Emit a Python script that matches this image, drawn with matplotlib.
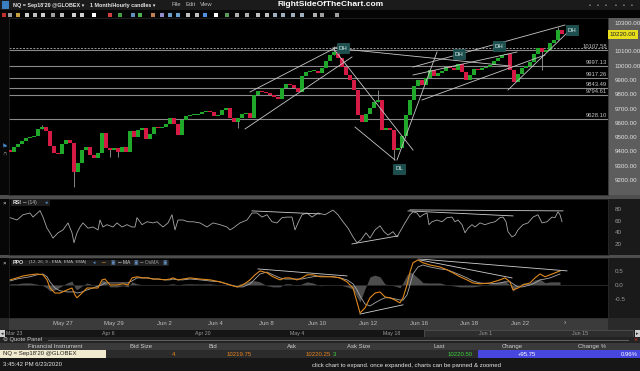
import numpy as np
import matplotlib.pyplot as plt
from matplotlib.patches import Rectangle
from matplotlib.ticker import FuncFormatter

plt.rcParams['font.family'] = ['Liberation Sans', 'DejaVu Sans']

W, H = 640, 371

# hourly-ish candle closes (NQ Sep 2020)
closes = [9396, 9431, 9452, 9473, 9494, 9501, 9508, 9557, 9571, 9543,
          9438, 9389, 9382, 9452, 9480, 9459, 9256, 9319, 9410, 9431,
          9375, 9354, 9389, 9529, 9424, 9410, 9424, 9396, 9431, 9396,
          9543, 9501, 9550, 9564, 9487, 9522, 9571, 9564, 9571, 9592,
          9634, 9592, 9515, 9620, 9648, 9655, 9655, 9662, 9676, 9683,
          9676, 9648, 9655, 9690, 9704, 9634, 9606, 9634, 9662, 9669,
          9634, 9795, 9823, 9816, 9809, 9795, 9781, 9767, 9844, 9872,
          9865, 9844, 9816, 9928, 9956, 9963, 9963, 9949, 9984, 10033,
          10075, 10096, 10054, 9991, 9935, 9900, 9830, 9655, 9606, 9662,
          9704, 9746, 9760, 9550, 9564, 9550, 9410, 9424, 9508, 9655,
          9760, 9858, 9900, 9865, 9914, 9970, 9928, 9949, 9963, 9991,
          9984, 9970, 10012, 9956, 9900, 9935, 9977, 9970, 9984, 9991,
          10005, 10033, 10054, 10075, 10082, 9970, 9886, 9942, 9984, 9998,
          10026, 10082, 10124, 10096, 10110, 10159, 10180, 10250, 10220.5]
first_open = 9410
wick_idx = [8, 16, 25, 27, 57, 81, 92, 96, 133, 137]
wick_to = [9585, 9151, 9361, 9361, 9564, 10138, 9830, 9340, 9970, 10271]

levels = [10107.58, 9997.13, 9917.26, 9843.49, 9794.61, 9628.10]
prev_close = 10124.75
last_price = 10220.50

# trendlines drawn on the price chart: (bar, price) pairs
price_lines = [((60, 9816), (81.75, 10131)), ((58.75, 9557), (85.5, 10061)),
               ((80.75, 10124), (100.75, 9410)), ((86.25, 9571), (96.25, 9340)),
               ((80.75, 10124), (125, 9998)), ((96.75, 9340), (106.75, 10096)),
               ((100.75, 9935), (126.75, 10096)), ((103, 9760), (133.75, 10075)),
               ((100.75, 9991), (138.75, 10285)), ((124.5, 9830), (139.5, 10236))]
pivot_text = ['DH', 'DH', 'DH', 'DH', 'DL']
pivot_x = [83.25, 112.25, 122.25, 140.5, 97.25]
pivot_y = [10124, 10082, 10138, 10250, 9277]

rsi_x = [0, 1.75, 3.25, 5, 5.75, 7.5, 8.25, 9.25, 10, 10.75, 12, 13.25, 14.5, 15.5, 16,
         16.75, 17.5, 18.25, 19.5, 20.75, 22, 22.5, 23.25, 24.25, 25.75, 26.75, 28, 29.25,
         30.5, 31.25, 31.75, 33, 34.25, 35.75, 36.75, 38.25, 39.5, 40.5, 41.25, 42, 43.25,
         44.5, 45.75, 47.5, 49.25, 50.75, 52.5, 54.25, 55, 55.75, 57.5, 59.25, 60.5, 61.75,
         63, 64.25, 65.5, 66.75, 68, 69.25, 70.5, 71.25, 72, 73, 74.25, 75.5, 77, 78.75,
         80.75, 82, 83.25, 84.5, 85.75, 86.75, 87.75, 89, 90, 91.25, 92.5, 93.5, 94.5,
         95.75, 96.75, 97.5, 98.75, 100, 100.75, 101.75, 102.5, 103.25, 104.25, 104.75,
         105.5, 106.75, 108, 109.25, 110.5, 111.25, 112, 113, 113.75, 114.5, 115.5, 116.25,
         117.5, 118.75, 120, 121.25, 122.5, 123.25, 124, 124.5, 125.5, 126.25, 127, 128.25,
         129.5, 130.75, 132, 133, 134.25, 135.5, 136.25, 137, 137.5, 138]
rsi_val = [65, 61, 70, 73, 66, 77, 66, 47, 39, 30, 39, 44, 56, 39, 22,
           39, 49, 56, 47, 49, 44, 61, 49, 53, 49, 56, 49, 53,
           49, 49, 65, 53, 58, 56, 58, 49, 56, 70, 44, 61, 61,
           58, 58, 56, 49, 56, 53, 49, 44, 47, 56, 61, 73, 73,
           66, 70, 58, 56, 65, 66, 66, 44, 56, 70, 73, 66, 73, 70,
           78, 70, 58, 47, 32, 22, 27, 39, 30, 44, 51, 41, 35,
           41, 32, 41, 56, 70, 75, 73, 66, 70, 73, 53,
           58, 61, 58, 65, 66, 58, 61, 53, 39, 47, 53, 49,
           56, 53, 56, 58, 65, 66, 58, 41, 32, 35, 44, 53,
           56, 66, 70, 56, 58, 66, 65, 75, 70, 58]
rsi_lines = [((60.5, 76.6), (77.5, 71.4)), ((99.5, 76.6), (125.75, 68)),
             ((100, 78.3), (138.25, 76.6)), ((85.5, 20), (97, 33.7))]

ppo_x = [0, 1.75, 3.25, 5, 6.75, 8.25, 9.25, 10, 11.25, 12.5, 14.25, 15.5, 16.25, 16.75,
         18, 19.25, 20.75, 22, 23, 23.75, 25, 26.75, 28.25, 29.5, 30.5, 31.75, 33.25, 34.5,
         35.75, 37, 38.75, 40, 40.75, 42, 43.25, 45, 47.5, 50, 52.5, 55, 56.75, 58.25, 60,
         61.25, 62.5, 64.25, 65.75, 67.5, 68.75, 70, 71.75, 73, 74.25, 75.75, 77.5, 80.75,
         82.5, 84.25, 85.75, 86.75, 87.5, 88.75, 90, 91.25, 92.5, 93.75, 95, 96.25, 97.5,
         98.25, 99.25, 100, 100.75, 102, 103.25, 105, 107.5, 109.25, 110.75, 112.5, 114.25,
         115.75, 117.5, 120, 122.5, 123.75, 125, 125.75, 127, 128.25, 130, 131.25, 132.5,
         133.75, 135, 136.25, 137.5]
ppo_val = [0.18, 0.25, 0.32, 0.36, 0.39, 0.36, 0.18, -0.11, -0.29, -0.29, -0.18, -0.11, -0.36,
           -0.46, -0.29, -0.11, -0.11, -0.11, 0.18, 0.21, 0.0, 0.0, 0.04, 0.0, 0.25, 0.29, 0.25,
           0.25, 0.21, 0.21, 0.18, 0.21, 0.25, 0.18, 0.21, 0.25, 0.21, 0.18, 0.11, 0.0, -0.07,
           0.0, 0.18, 0.36, 0.5, 0.43, 0.29, 0.18, 0.25, 0.25, 0.18, 0.25, 0.36, 0.36, 0.29,
           0.29, 0.25, 0.11, -0.11, -0.61, -1.0, -0.82, -0.46, -0.29, -0.25, -0.43, -0.46,
           -0.54, -0.64, -0.46, 0.0, 0.46, 0.79, 0.89, 0.79, 0.71, 0.64, 0.54, 0.43, 0.29,
           0.18, 0.07, 0.04, 0.07, 0.18, 0.25, 0.11, -0.18, -0.11, 0.0, 0.07, 0.25, 0.39,
           0.29, 0.36, 0.43, 0.5]
ma_val = [0.14, 0.21, 0.25, 0.29, 0.36, 0.39, 0.29, 0.11, -0.11, -0.21, -0.25, -0.25, -0.25,
          -0.29, -0.25, -0.18, -0.11, -0.04, 0.0, 0.07, 0.07, 0.07, 0.07, 0.07, 0.14, 0.25, 0.25,
          0.25, 0.21, 0.21, 0.18, 0.18, 0.21, 0.18, 0.18, 0.21, 0.18, 0.14, 0.11, 0.0, -0.07,
          -0.07, 0.04, 0.21, 0.39, 0.46, 0.36, 0.25, 0.21, 0.21, 0.21, 0.21, 0.25, 0.29, 0.32,
          0.29, 0.25, 0.18, 0.04, -0.18, -0.39, -0.68, -0.75, -0.64, -0.54, -0.46, -0.46,
          -0.5, -0.54, -0.54, -0.36, 0.0, 0.39, 0.64, 0.71, 0.64, 0.57, 0.54, 0.46, 0.36,
          0.25, 0.14, 0.07, 0.04, 0.07, 0.11, 0.11, 0.04, -0.07, -0.07, 0.0, 0.07, 0.18,
          0.21, 0.25, 0.32, 0.39]
ppo_lines = [((62, 0.57), (84.25, 0.32)), ((102, 0.93), (139.25, 0.5)),
             ((102.5, 0.89), (125.5, 0.25)), ((87.5, -1.04), (98.25, -0.71))]

day_labels = ['May 27', 'May 29', 'Jun 2', 'Jun 4', 'Jun 8', 'Jun 10', 'Jun 12',
              'Jun 16', 'Jun 18', 'Jun 22']
nav_labels = ['Mar 23', 'Apr 6', 'Apr 20', 'May 4', 'May 18', 'Jun 1', 'Jun 15']

quote_cols = ['Financial Instrument', 'Bid Size', 'Bid', 'Ask', 'Ask Size', 'Last',
              'Change', 'Change %']
instrument = "NQ = Sep18'20 @GLOBEX"
bid_size, bid, ask, ask_size = '4', '10219.75', '10220.25', '3'
change, change_pct = '+95.75', '0.96%'


fig = plt.figure(figsize=(6.4, 3.71), dpi=100, facecolor='#0c0c0c')


def rect(x0, y0, x1, y1, color, z=-1, ec='none', lw=0):
    fig.add_artist(Rectangle((x0 / W, 1 - y1 / H), (x1 - x0) / W, (y1 - y0) / H,
                             transform=fig.transFigure, facecolor=color,
                             edgecolor=ec, linewidth=lw, zorder=z))


def label(x, y, s, size=4.5, color='#cccccc', ha='left', **kw):
    fig.text(x / W, 1 - y / H, s, fontsize=size, color=color, ha=ha, va='center', **kw)


def axes_px(x0, y0, x1, y1):
    return fig.add_axes([x0 / W, 1 - y1 / H, (x1 - x0) / W, (y1 - y0) / H])


# window chrome
rect(0, 0, 640, 10, '#1b1b1b')
rect(0, 10, 640, 18, '#050505')
rect(0, 18, 9, 318, '#070707')
rect(608, 18, 640, 195, '#5d5d5d')
rect(608, 195, 640, 318, '#1a1a1a')
rect(0, 195, 640, 199, '#4e4e4e')
rect(0, 255, 640, 258, '#4e4e4e')
rect(0, 318, 640, 330, '#2a2a2a')
rect(9, 318, 608, 330, '#3b3b3b')
rect(0, 330, 640, 337, '#151515')
rect(424, 330, 633, 337, '#2e2e2e', ec='#6a6a6a', lw=0.4)
rect(0, 337, 640, 343, '#232323')
rect(0, 343, 640, 350, '#3a3a3a')
rect(0, 350, 640, 358, '#2b2b2b')
rect(0, 350, 106, 358, '#efe9cd')
rect(478, 350, 640, 358, '#4747e0')
rect(0, 358, 640, 371, '#161616')

# title bar
rect(2, 1, 9, 9, '#3a7fc0', z=2)
label(13, 5, "NQ = Sep18'20 @GLOBEX \u25be", size=3.9, color='#e6e6e6', fontweight='bold')
label(90, 5, "1 Month/Hourly candles \u25be", size=3.9, color='#e6e6e6', fontweight='bold')
label(171, 5, "File", size=4.2, color='#bdbdbd')
label(185, 5, "Edit", size=4.2, color='#bdbdbd')
label(200, 5, "View", size=4.2, color='#bdbdbd')
label(331, 4.5, "RightSideOfTheChart.com", size=6, color='white', ha='center',
      fontweight='heavy')
for x in [590, 598, 606, 616, 624, 632]:
    label(x, 5, '\u25aa', size=4, color='#8a8a8a', ha='center')

# toolbar icons
icon_x = [4, 10, 18, 27, 35, 43, 53, 62, 74, 82, 94, 110, 120, 133, 140, 153, 162, 170,
          178, 188, 197, 205, 216, 227, 237, 247, 258, 267, 275, 283, 293, 302, 315, 322, 337]
icon_c = ['#c03030', '#9a9a9a', '#c8a040', '#cfcfcf', '#bfbfbf', '#d0d0d0', '#a0a0a0',
          '#c0c0c0', '#d0d0d0', '#d0d0d0', '#ffffff', '#d04040', '#40a040', '#6090c0',
          '#50b050', '#c08050', '#9090d0', '#6aa0d0', '#6aa0d0', '#c0c0c0', '#c0c0c0',
          '#5090e0', '#ffffff', '#5a9a5a', '#b0b0b0', '#b0b0b0', '#c0c0c0', '#c0c0c0',
          '#a0b0c0', '#a0b0c0', '#a0b0c0', '#a0b0c0', '#b0b0b0', '#a0a0a0', '#a0a0a0']
for x, c in zip(icon_x, icon_c):
    rect(x - 2, 12.5, x + 2, 16.5, c, z=2)

# panes
ax = axes_px(9, 18, 608, 195)
ax_rsi = axes_px(9, 199, 608, 255)
ax_ppo = axes_px(9, 258, 608, 318)
for a in (ax, ax_rsi, ax_ppo):
    a.set_facecolor('black')
    a.set_xlim(-0.25, 149.5)
    for s in a.spines.values():
        s.set_color('#2a2a2a')
        s.set_linewidth(0.5)
    a.tick_params(length=0)
    a.yaxis.tick_right()

# price candles
closes_a = np.array(closes, dtype=float)
idx = np.arange(len(closes_a))
opens = np.r_[first_open, closes_a[:-1]]
colors = np.where(closes_a >= opens, '#1fa82a', '#d41a45')
body_lo = np.minimum(opens, closes_a)
body_h = np.maximum(np.abs(closes_a - opens), 4)
for i, p in zip(wick_idx, wick_to):
    ax.vlines(i, min(p, body_lo[i]), max(p, body_lo[i] + body_h[i]), color='#9a9a9a',
              lw=0.6, zorder=2)
ax.bar(idx, body_h, bottom=body_lo, width=0.8, color=colors, linewidth=0, zorder=3)

for lv in levels:
    ax.axhline(lv, color='#8a8a8a', lw=0.8, zorder=1)
    ax.text(149.3, lv + 6, f'{lv:.2f}', fontsize=4.2, color='#c4c4c4', ha='right',
            va='bottom', zorder=4)
ax.axhline(prev_close, color='#9a9a9a', lw=0.7, ls=(0, (2, 1.5)), zorder=1)

for (x0, y0), (x1, y1) in price_lines:
    ax.plot([x0, x1], [y0, y1], color='#c8c8c8', lw=0.6, zorder=4)
for s, x, y in zip(pivot_text, pivot_x, pivot_y):
    ax.text(x, y, s, fontsize=4.3, color='#d8eeee', ha='center', va='center', zorder=6,
            bbox=dict(boxstyle='square,pad=0.35', fc='#1d4f4f', ec='#2f6a6a', lw=0.4))

ax.set_ylim(9095, 10334)
ax.set_xticks([])
ax.set_yticks([p for p in range(9200, 10301, 100) if p != 10200])
ax.yaxis.set_major_formatter(FuncFormatter(lambda v, _: f'{v:.2f}'))
ax.tick_params(axis='y', labelsize=4.5, colors='#e2e2e2', pad=5)
ax.text(1.003, last_price, f'{last_price - 0.5:.2f}', transform=ax.get_yaxis_transform(),
        fontsize=4.5, color='#202020', ha='left', va='center', zorder=10, clip_on=False,
        bbox=dict(boxstyle='square,pad=0.3', fc='#e8df1c', ec='none'))

# RSI
ax_rsi.plot(rsi_x, rsi_val, color='#a8a8a8', lw=0.6)
for (x0, y0), (x1, y1) in rsi_lines:
    ax_rsi.plot([x0, x1], [y0, y1], color='#cfcfcf', lw=0.6)
ax_rsi.set_ylim(1, 97)
ax_rsi.set_xticks([])
ax_rsi.set_yticks([20, 40, 60, 80])
ax_rsi.tick_params(axis='y', labelsize=4.5, colors='#9c9c9c', pad=5)

# PPO
osma = np.array(ppo_val) - np.array(ma_val)
ax_ppo.axhline(0, color='#2c2c2c', lw=0.6)
ax_ppo.fill_between(ppo_x, 0, osma, color='#4d4d4d', lw=0)
ax_ppo.plot(ppo_x, ma_val, color='#a8a8a8', lw=0.6)
ax_ppo.plot(ppo_x, ppo_val, color='#e0891c', lw=0.8)
for (x0, y0), (x1, y1) in ppo_lines:
    ax_ppo.plot([x0, x1], [y0, y1], color='#cfcfcf', lw=0.6)
ax_ppo.set_ylim(-1.18, 0.96)
ax_ppo.set_yticks([-0.5, 0.0, 0.5])
ax_ppo.yaxis.set_major_formatter(FuncFormatter(lambda v, _: f'{v:.1f}'))
ax_ppo.tick_params(axis='y', labelsize=4.5, colors='#9c9c9c', pad=5)
ax_ppo.set_xticks([13.25 + 12.7 * k for k in range(len(day_labels))])
ax_ppo.set_xticklabels(day_labels)
ax_ppo.tick_params(axis='x', labelsize=4.3, colors='#bdbdbd', pad=2)

# pane captions
rect(11, 199.5, 50, 205.5, '#1d1d1d', z=2)
label(13, 202.5, 'RSI', size=3.8, color='#e0e0e0', fontweight='bold')
label(23, 202.5, '\u2500 (14)', size=3.6, color='#bbbbbb')
label(45, 202.5, '\u25c2', size=3.6, color='#5a9ad8')
rect(11, 259.5, 169, 265.5, '#1d1d1d', z=2)
label(13, 262.5, 'PPO', size=3.8, color='#e0e0e0', fontweight='bold')
label(29, 262.5, '(12, 26, 9 - EMA, EMA, EMA)', size=3.2, color='#bbbbbb')
label(93, 262.5, '\u25c2', size=3.4, color='#5a9ad8')
label(101, 262.5, '\u2500', size=3.8, color='#e0891c')
label(111, 262.5, '\u25a3', size=3.4, color='#6a9ad0')
label(118, 262.5, '\u2500 MA', size=3.6, color='#d0d0d0')
label(134, 262.5, '\u25a3', size=3.4, color='#6a9ad0')
label(140, 262.5, '\u2500 OsMA', size=3.6, color='#9a9a9a')
label(163, 262.5, '\u25a3', size=3.4, color='#6a9ad0')
for y in (203, 263):
    label(4.5, y, '\u00d7', size=4.5, color='#dddddd', ha='center')
label(4.5, 146, '\u2691', size=4.5, color='#4a90d0', ha='center')
label(4.5, 153, '\u2229', size=4.5, color='#bbbbbb', ha='center')

# date row and navigator
label(565, 324, '\u203a', size=5, color='#bbbbbb', ha='center')
for k, s in enumerate(nav_labels):
    label(14 + 94.3 * k, 333.5, s, size=3.8, color='#9a9a9a', ha='center')
rect(0, 330, 5, 337, '#cfcfcf', z=2)
rect(635, 330, 640, 337, '#cfcfcf', z=2)
label(2.5, 333.5, '\u25c2', size=3.5, color='#202020', ha='center')
label(637.5, 333.5, '\u25b8', size=3.5, color='#202020', ha='center')

# quote panel
label(3, 340, '\u2296 Quote Panel', size=4.2, color='#c8c8c8')
fig.add_artist(plt.Line2D([48 / W, 628 / W], [1 - 340 / H] * 2, transform=fig.transFigure,
                          color='#6a6a6a', lw=0.6))
label(636, 340, '\u00d7', size=5, color='#d03030', ha='center')
col_x = [55, 141, 213, 292, 359, 439, 512, 592]
for x, s in zip(col_x, quote_cols):
    label(x, 346.5, s, size=4.3, color='#cfcfcf', ha='center')
label(3, 354, instrument, size=4.3, color='#202020')
label(173, 354, bid_size, size=4.3, color='#e8821e', ha='center')
label(239, 354, bid, size=4.3, color='#e8821e', ha='center')
label(318, 354, ask, size=4.3, color='#e8821e', ha='center')
label(334, 354, ask_size, size=4.3, color='#3ad03a', ha='center')
label(473, 354, f'{last_price:.2f}', size=4.3, color='#3ad03a', ha='right')
label(527, 354, change, size=4.3, color='#ffffff', ha='center')
label(638, 354, change_pct, size=4.3, color='#ffffff', ha='right')

# status bar
label(3, 365, '3:45:42 PM 6/23/2020', size=4.3, color='#e6e6e6')
label(406, 365, 'click chart to expand. once expanded, charts can be panned & zoomed',
      size=4.3, color='#e6e6e6', ha='center')

fig.savefig('out.png', dpi=100, facecolor=fig.get_facecolor())
